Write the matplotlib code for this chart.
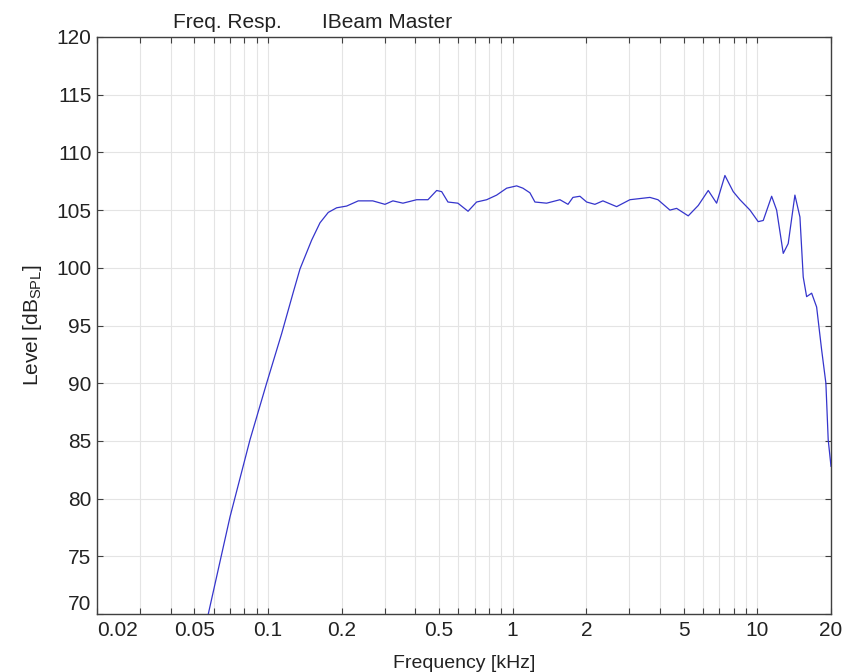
import matplotlib
matplotlib.use("Agg")
import matplotlib.pyplot as plt
from matplotlib.ticker import FixedLocator, FixedFormatter, NullFormatter

plt.rcParams['font.family'] = ['Liberation Sans', 'DejaVu Sans']
plt.rcParams['mathtext.fontset'] = 'custom'
plt.rcParams['mathtext.rm'] = 'Liberation Sans'
plt.rcParams['mathtext.it'] = 'Liberation Sans'

# frequency response (kHz, dB SPL)
freq_khz = [0.050, 0.0570, 0.0699, 0.0844, 0.0987, 0.1137, 0.1269, 0.1351, 0.1508,
            0.1631, 0.1763, 0.1908, 0.2096, 0.2338, 0.268, 0.3006, 0.324, 0.356,
            0.405, 0.4506, 0.489, 0.5126, 0.5438, 0.597, 0.657, 0.712, 0.783,
            0.860, 0.945, 1.038, 1.101, 1.176, 1.233, 1.376, 1.560, 1.683, 1.763,
            1.883, 2.006, 2.168, 2.338, 2.660, 3.014, 3.638, 3.924, 4.392, 4.678,
            5.218, 5.734, 6.300, 6.816, 7.370, 7.968, 8.488, 9.330, 10.08, 10.57,
            11.44, 11.99, 12.76, 13.37, 14.24, 14.93, 15.40, 15.90, 16.67, 17.47,
            18.31, 19.06, 19.48, 20.0]
level_db = [65.0, 70.0, 78.4, 85.1, 90.0, 94.3, 97.9, 99.9, 102.4,
            103.9, 104.8, 105.2, 105.35, 105.8, 105.8, 105.5, 105.8, 105.6,
            105.9, 105.9, 106.7, 106.6, 105.7, 105.6, 104.9, 105.7, 105.9,
            106.3, 106.9, 107.1, 106.9, 106.5, 105.7, 105.6, 105.9, 105.5, 106.1,
            106.2, 105.7, 105.5, 105.8, 105.3, 105.9, 106.1, 105.9, 105.0, 105.15,
            104.5, 105.4, 106.7, 105.6, 108.0, 106.6, 105.9, 105.0, 104.0, 104.1,
            106.2, 105.0, 101.25, 102.1, 106.3, 104.4, 99.2, 97.5, 97.8, 96.6,
            92.9, 90.0, 85.1, 82.8]

x_major = [0.02, 0.05, 0.1, 0.2, 0.5, 1, 2, 5, 10, 20]
x_major_labels = ['0.02', '0.05', '0.1', '0.2', '0.5', '1', '2', '5', '10', '20']
x_minor = [0.03, 0.04, 0.06, 0.07, 0.08, 0.09,
           0.3, 0.4, 0.6, 0.7, 0.8, 0.9,
           3, 4, 6, 7, 8, 9]
y_ticks = [70, 75, 80, 85, 90, 95, 100, 105, 110, 115, 120]

fig = plt.figure(figsize=(8.47, 6.72), dpi=100)
ax = fig.add_axes([97 / 847, 58 / 672, 734 / 847, 577 / 672])

ax.plot(freq_khz, level_db, color='#3535cc', linewidth=0.9, zorder=3)

ax.set_xscale('log')
ax.set_xlim(0.02, 20)
ax.set_ylim(70, 120)

ax.xaxis.set_major_locator(FixedLocator(x_major))
ax.xaxis.set_major_formatter(FixedFormatter(x_major_labels))
ax.xaxis.set_minor_locator(FixedLocator(x_minor))
ax.xaxis.set_minor_formatter(NullFormatter())
ax.yaxis.set_major_locator(FixedLocator(y_ticks))

# grid, matlab style
ax.grid(True, which='major', color='#e4e4e4', linewidth=0.8)
ax.grid(True, which='minor', axis='x', color='#e4e4e4', linewidth=0.8)
ax.set_axisbelow(True)

ax.tick_params(which='both', direction='in', top=True, right=True,
               length=4.5, width=0.8, color='#404040',
               labelsize=15, labelcolor='#222222')
ax.tick_params(axis='x', which='major', pad=5)
ax.tick_params(axis='y', which='major', pad=4)
for s in ax.spines.values():
    s.set_color('#404040')
    s.set_linewidth(1.0)

# matlab nudges the end labels inside
ax.get_xticklabels()[0].set_horizontalalignment('left')
ax.get_yticklabels()[0].set_verticalalignment('bottom')

ax.set_xlabel('Frequency [kHz]', fontsize=14, color='#222222')
ax.xaxis.set_label_coords(0.5, -0.071)
ax.set_ylabel('Level [dB$_{\\mathrm{SPL}}$]', fontsize=15, color='#222222')
ax.yaxis.set_label_coords(-0.072, 0.5)

fig.text(173 / 847, 1 - 28 / 672, 'Freq. Resp.', fontsize=15, color='#222222',
         ha='left', va='baseline')
fig.text(322 / 847, 1 - 28 / 672, 'IBeam Master', fontsize=15, color='#222222',
         ha='left', va='baseline')

fig.savefig('out.png', dpi=100)
